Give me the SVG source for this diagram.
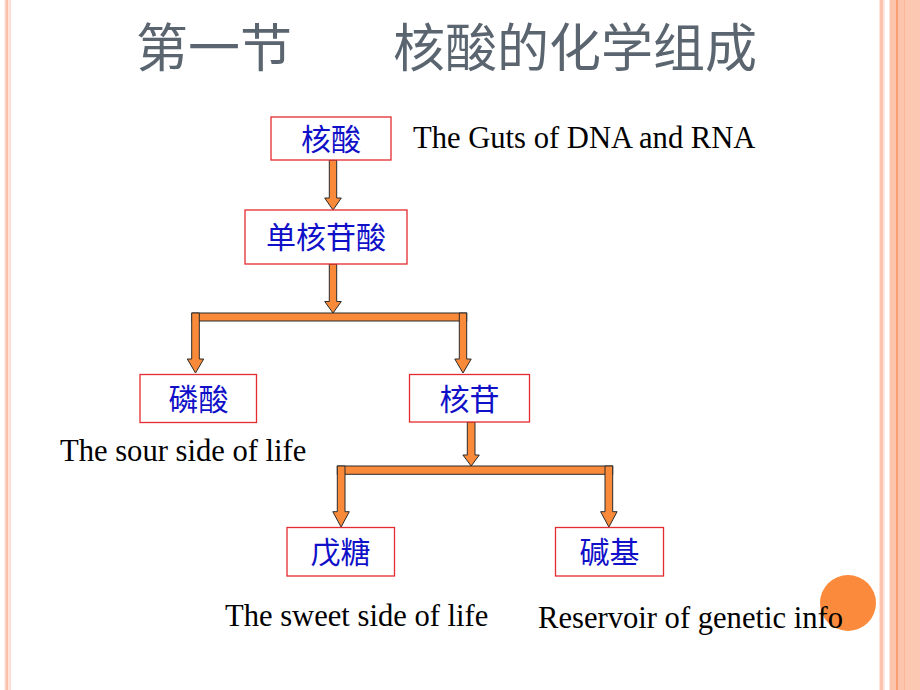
<svg xmlns="http://www.w3.org/2000/svg" width="920" height="690" viewBox="0 0 920 690">
<style>
.box{fill:#ffffff;stroke:#e52b2f;stroke-width:1.3}
.cn{font-family:"Noto Sans CJK SC","Noto Sans CJK TC",sans-serif;font-size:30px;fill:#1010c8;text-anchor:middle}
.en{font-family:"Liberation Serif","Times New Roman",serif;font-size:30.6px;fill:#000}
.title{font-family:"Noto Sans CJK SC",sans-serif;font-size:52px;fill:#5b6570}
.arr{fill:#f98a3a;stroke:#2a2a2a;stroke-width:1;stroke-linejoin:miter}
</style>
<rect width="920" height="690" fill="#ffffff"/>
<g id="frame">
<rect x="4.5" y="0" width="1" height="690" fill="#fde0d4"/>
<rect x="5.5" y="0" width="2.8" height="690" fill="#fcc0aa"/>
<rect x="8.3" y="0" width="2.8" height="690" fill="#fde0d4"/>
<rect x="879" y="0" width="1" height="690" fill="#fde3d8"/>
<rect x="880" y="0" width="3" height="690" fill="#fdc4ad"/>
<rect x="883" y="0" width="1.7" height="690" fill="#fde3d8"/>
<rect x="889" y="0" width="1" height="690" fill="#fde3d8"/>
<rect x="890" y="0" width="6" height="690" fill="#fdc4ad"/>
<rect x="896" y="0" width="2" height="690" fill="#f9a072"/>
<rect x="898" y="0" width="6" height="690" fill="#fdc4ad"/>
<rect x="904" y="0" width="1" height="690" fill="#fbb898"/>
<rect x="905" y="0" width="15" height="690" fill="#fdc8b2"/>
</g>
<g id="title">
<text class="title" x="136" y="67">第一节</text>
<text class="title" x="393" y="67">核酸的化学组成</text>
</g>
<circle id="dot" cx="848" cy="603" r="28" fill="#fb8a3c"/>
<g id="connectors">
<polygon class="arr" points="329.3,160 336.7,160 336.7,198 341.3,198 333,210 324.7,198 329.3,198"/>
<polygon class="arr" points="329.3,264 336.7,264 336.7,301.5 341.3,301.5 333,313 324.7,301.5 329.3,301.5"/>
<rect class="arr" x="192" y="313" width="274.7" height="8"/>
<polygon class="arr" points="191.7,313 199.3,313 199.3,359 203.7,359 195.5,373 187.3,359 191.7,359"/>
<polygon class="arr" points="459.3,313 466.7,313 466.7,359 471.2,359 463,373 454.8,359 459.3,359"/>
<polygon class="arr" points="467.3,422 475,422 475,455 479.3,455 471.2,466 462.9,455 467.3,455"/>
<rect class="arr" x="337.3" y="466" width="275.4" height="8.3"/>
<polygon class="arr" points="337.3,466 345,466 345,511.7 349.3,511.7 341.1,527 332.8,511.7 337.3,511.7"/>
<polygon class="arr" points="605,466 612.7,466 612.7,511.7 617.1,511.7 608.9,527 600.6,511.7 605,511.7"/>
</g>
<g id="n1"><rect class="box" x="271" y="117" width="120" height="43"/><text class="cn" x="331" y="150">核酸</text></g>
<g id="n2"><rect class="box" x="245" y="210" width="162" height="54"/><text class="cn" x="326" y="248">单核苷酸</text></g>
<g id="n3"><rect class="box" x="140" y="374.5" width="116.5" height="48"/><text class="cn" x="198.5" y="409.5">磷酸</text></g>
<g id="n4"><rect class="box" x="409.5" y="374.5" width="120" height="47.5"/><text class="cn" x="469.5" y="409.5">核苷</text></g>
<g id="n5"><rect class="box" x="287" y="527.5" width="107.5" height="48.5"/><text class="cn" x="340.5" y="562.5">戊糖</text></g>
<g id="n6"><rect class="box" x="555.5" y="527.5" width="108" height="48.5"/><text class="cn" x="609.5" y="562.5">碱基</text></g>
<g id="labels">
<text class="en" x="413" y="148">The Guts of DNA and RNA</text>
<text class="en" x="60" y="461">The sour side of life</text>
<text class="en" x="225" y="626">The sweet side of life</text>
<text class="en" x="538" y="628">Reservoir of genetic info</text>
</g>
</svg>
